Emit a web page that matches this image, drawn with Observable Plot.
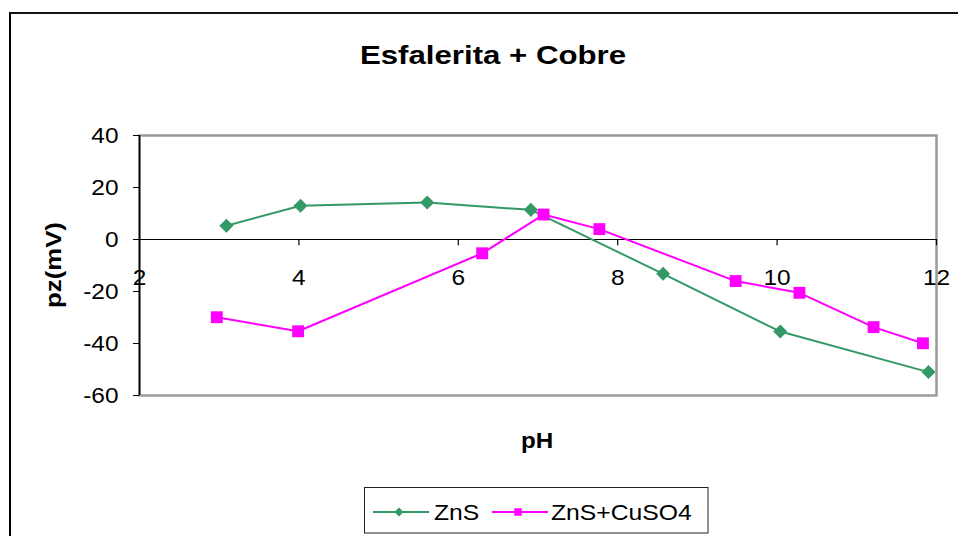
<!DOCTYPE html>
<html>
<head>
<meta charset="utf-8">
<script src="https://cdn.jsdelivr.net/npm/d3@7"></script>
<script src="https://cdn.jsdelivr.net/npm/@observablehq/plot@0.6"></script>
<style>
  html, body { margin: 0; padding: 0; background: #fff; overflow: hidden; }
  #wrap { position: relative; width: 958px; height: 536px; overflow: hidden; background: #fff; }
  #outer { position: absolute; left: 9px; top: 12px; width: 1200px; height: 1200px; border-left: 2.5px solid #000; border-top: 2px solid #111; }
  #wrap svg { position: absolute; left: 0; top: 0; }
</style>
</head>
<body>
<div id="wrap"><div id="outer"></div></div>
<script>
// ---- data ----
const title = "Esfalerita + Cobre";
const xLabel = "pH";
const yLabel = "pz(mV)";
const xTicks = [2, 4, 6, 8, 10, 12];
const yTicks = [40, 20, 0, -20, -40, -60];
const seriesNames = ["ZnS", "ZnS+CuSO4"];
const seriesColors = ["#339966", "#ff00ff"];
const znsPH = [3.09, 4.02, 5.61, 6.91, 8.57, 10.04, 11.90];
const znsPZ = [5.3, 13.0, 14.2, 11.4, -13.2, -35.4, -51.0];
const cuPH = [2.97, 3.99, 6.30, 7.07, 7.77, 9.48, 10.28, 11.21, 11.83];
const cuPZ = [-29.9, -35.3, -5.3, 9.6, 4.0, -16.0, -20.5, -33.7, -39.9];

const zns = znsPH.map((x, i) => ({x, y: znsPZ[i]}));
const cu = cuPH.map((x, i) => ({x, y: cuPZ[i]}));

const font = "'Liberation Sans', Arial, Helvetica, sans-serif";
const stretch = 1.11;

const chart = Plot.plot({
  width: 958,
  height: 536,
  marginLeft: 139,
  marginRight: 22,
  marginTop: 135,
  marginBottom: 141,
  style: {fontFamily: font, background: "transparent", color: "#000", overflow: "visible"},
  x: {domain: [2, 12], axis: null},
  y: {domain: [-60, 40]},
  marks: [
    Plot.frame({stroke: "#9a9a9a", strokeWidth: 2.5}),
    Plot.ruleX([2], {stroke: "#000", strokeWidth: 1.6}),
    Plot.ruleY([0], {stroke: "#000", strokeWidth: 1.2}),
    Plot.axisY({ticks: yTicks, tickSize: 6, tickPadding: 15, fontSize: 22, tickFormat: d => String(d), label: null, className: "yt", fill: "#000"}),
    Plot.ruleX(xTicks.slice(1), {x: d => d, y1: 0, y2: -2.4, stroke: "#000", strokeWidth: 1.2}),
    Plot.text(xTicks, {x: d => d, y: 0, dy: 38, text: d => String(d), fontSize: 22, fill: "#000", className: "xt"}),
    Plot.line(zns, {x: "x", y: "y", stroke: seriesColors[0], strokeWidth: 2}),
    Plot.dot(zns, {x: "x", y: "y", symbol: "square", r: 5.6, rotate: 45, fill: seriesColors[0], stroke: "none"}),
    Plot.line(cu, {x: "x", y: "y", stroke: seriesColors[1], strokeWidth: 2}),
    Plot.dot(cu, {x: "x", y: "y", symbol: "square", r: 6.7, fill: seriesColors[1], stroke: "none"})
  ]
});

// widen tick label glyphs to match the reference's stretched lettering
chart.querySelectorAll(".yt text, .xt text").forEach(t => {
  let tr = t.getAttribute("transform");
  if (!tr) {
    const x = t.getAttribute("x") || 0, y = t.getAttribute("y") || 0;
    t.removeAttribute("x"); t.removeAttribute("y");
    tr = `translate(${x},${y})`;
  }
  t.setAttribute("transform", tr + ` scale(${stretch},1)`);
});

const wrap = document.getElementById("wrap");
wrap.appendChild(chart);

// ---- overlay: title, axis titles, legend ----
const ov = d3.select(wrap).append("svg")
  .attr("width", 958).attr("height", 536)
  .style("font-family", font);

ov.append("text")
  .attr("transform", "translate(493,64.3) scale(1.2,1)")
  .attr("text-anchor", "middle")
  .attr("font-weight", "bold").attr("font-size", 26)
  .text(title);

ov.append("text")
  .attr("transform", "translate(61,265) rotate(-90) scale(1.17,1)")
  .attr("text-anchor", "middle")
  .attr("font-weight", "bold").attr("font-size", 22)
  .text(yLabel);

ov.append("text")
  .attr("transform", "translate(537,448) scale(1.1,1)")
  .attr("text-anchor", "middle")
  .attr("font-weight", "bold").attr("font-size", 22)
  .text(xLabel);

const lg = ov.append("g");
lg.append("rect")
  .attr("x", 364.5).attr("y", 487.5).attr("width", 343.5).attr("height", 45.5)
  .attr("fill", "#fff").attr("stroke", "#222").attr("stroke-width", 1);

const items = [
  {name: seriesNames[0], color: seriesColors[0], x0: 373, sym: d3.symbolSquare, size: 40, rot: 45, tx: 434},
  {name: seriesNames[1], color: seriesColors[1], x0: 492, sym: d3.symbolSquare, size: 56, rot: 0, tx: 551}
];
items.forEach(it => {
  lg.append("line")
    .attr("x1", it.x0).attr("x2", it.x0 + 56).attr("y1", 512).attr("y2", 512)
    .attr("stroke", it.color).attr("stroke-width", 2);
  lg.append("path")
    .attr("d", d3.symbol(it.sym, it.size)())
    .attr("transform", `translate(${it.x0 + 26},512) rotate(${it.rot})`)
    .attr("fill", it.color);
  lg.append("text")
    .attr("transform", `translate(${it.tx},519.5) scale(1.15,1)`)
    .attr("font-size", 21.5)
    .text(it.name);
});
</script>
</body>
</html>
